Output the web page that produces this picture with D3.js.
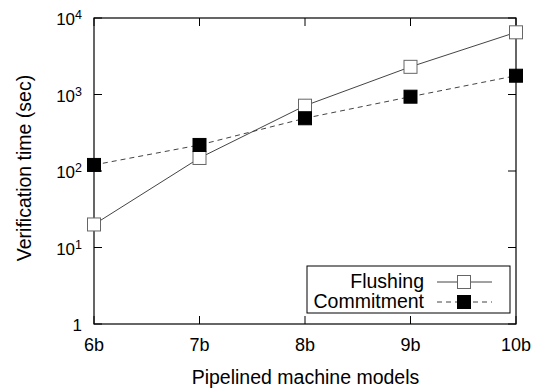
<!DOCTYPE html>
<html>
<head>
<meta charset="utf-8">
<script src="https://cdn.jsdelivr.net/npm/d3@7"></script>
<style>
  body { margin: 0; background: #fff; }
  text { font-family: "Liberation Sans", Arial, sans-serif; fill: #000; }
</style>
</head>
<body>
<div id="chart"></div>
<script>
// models on the x axis
const models = ["6b", "7b", "8b", "9b", "10b"];
// verification time (sec)
const flushing = [20, 148, 714, 2300, 6500];
const commitment = [120, 219, 489, 936, 1760];
const yTicks = [1, 10, 100, 1000, 10000];

const width = 534, height = 392;
const margin = { top: 18, right: 18, bottom: 68, left: 94 };

const svg = d3.select("#chart").append("svg")
  .attr("width", width)
  .attr("height", height);

const x = d3.scalePoint()
  .domain(models)
  .range([margin.left, width - margin.right]);

const y = d3.scaleLog()
  .domain([1, 10000])
  .range([height - margin.bottom, margin.top]);

const tickLen = 8;

// ticks on all four sides, pointing inward
const g = svg.append("g");
models.forEach(m => {
  g.append("line").attr("x1", x(m)).attr("x2", x(m))
    .attr("y1", y(1)).attr("y2", y(1) - tickLen).attr("stroke", "#000");
  g.append("line").attr("x1", x(m)).attr("x2", x(m))
    .attr("y1", y(10000)).attr("y2", y(10000) + tickLen).attr("stroke", "#000");
  g.append("text").attr("x", x(m)).attr("y", y(1) + 27)
    .attr("text-anchor", "middle").style("font-size", "18px").text(m);
});
yTicks.forEach(v => {
  g.append("line").attr("x1", margin.left).attr("x2", margin.left + tickLen)
    .attr("y1", y(v)).attr("y2", y(v)).attr("stroke", "#000");
  g.append("line").attr("x1", width - margin.right).attr("x2", width - margin.right - tickLen)
    .attr("y1", y(v)).attr("y2", y(v)).attr("stroke", "#000");
  const t = g.append("text").attr("x", margin.left - 12).attr("y", y(v) + 7)
    .attr("text-anchor", "end").style("font-size", "17px");
  const e = Math.round(Math.log10(v));
  if (e === 0) {
    t.text("1");
  } else {
    t.append("tspan").text("10");
    t.append("tspan").attr("dy", -6).style("font-size", "12.5px").text(e);
  }
});

// frame
svg.append("rect")
  .attr("x", margin.left).attr("y", margin.top)
  .attr("width", width - margin.left - margin.right)
  .attr("height", height - margin.top - margin.bottom)
  .attr("fill", "none").attr("stroke", "#000").attr("stroke-width", 1.2);

const line = d3.line()
  .x((d, i) => x(models[i]))
  .y(d => y(d));

const series = [
  { name: "Flushing", values: flushing, dash: null, fill: "#fff", stroke: "#666" },
  { name: "Commitment", values: commitment, dash: "5,4", fill: "#000", stroke: "#000" }
];

const ms = 13;
series.forEach(s => {
  svg.append("path").datum(s.values)
    .attr("d", line)
    .attr("fill", "none")
    .attr("stroke", "#444")
    .attr("stroke-width", 1)
    .attr("stroke-dasharray", s.dash);
});
series.forEach(s => {
  svg.selectAll(null).data(s.values).enter().append("rect")
    .attr("x", (d, i) => x(models[i]) - ms / 2)
    .attr("y", d => y(d) - ms / 2)
    .attr("width", ms).attr("height", ms)
    .attr("fill", s.fill)
    .attr("stroke", s.stroke)
    .attr("stroke-width", 1);
});

// legend
const lg = svg.append("g");
lg.append("rect")
  .attr("x", 307).attr("y", 266).attr("width", 203).attr("height", 47)
  .attr("fill", "#fff").attr("stroke", "#000").attr("stroke-width", 1);
series.forEach((s, i) => {
  const cy = 282 + i * 20;
  lg.append("text").attr("x", 424).attr("y", cy + 6)
    .attr("text-anchor", "end").style("font-size", "19.5px").text(s.name);
  lg.append("line").attr("x1", 437).attr("x2", 492)
    .attr("y1", cy).attr("y2", cy)
    .attr("stroke", "#444").attr("stroke-dasharray", s.dash);
  lg.append("rect").attr("x", 464 - ms / 2).attr("y", cy - ms / 2)
    .attr("width", ms).attr("height", ms)
    .attr("fill", s.fill).attr("stroke", s.stroke);
});

// axis titles
svg.append("text")
  .attr("x", 305.5)
  .attr("y", 384)
  .attr("text-anchor", "middle")
  .style("font-size", "19.5px")
  .text("Pipelined machine models");

svg.append("text")
  .attr("transform", "translate(31,168) rotate(-90)")
  .attr("text-anchor", "middle")
  .style("font-size", "19.5px")
  .text("Verification time (sec)");
</script>
</body>
</html>
